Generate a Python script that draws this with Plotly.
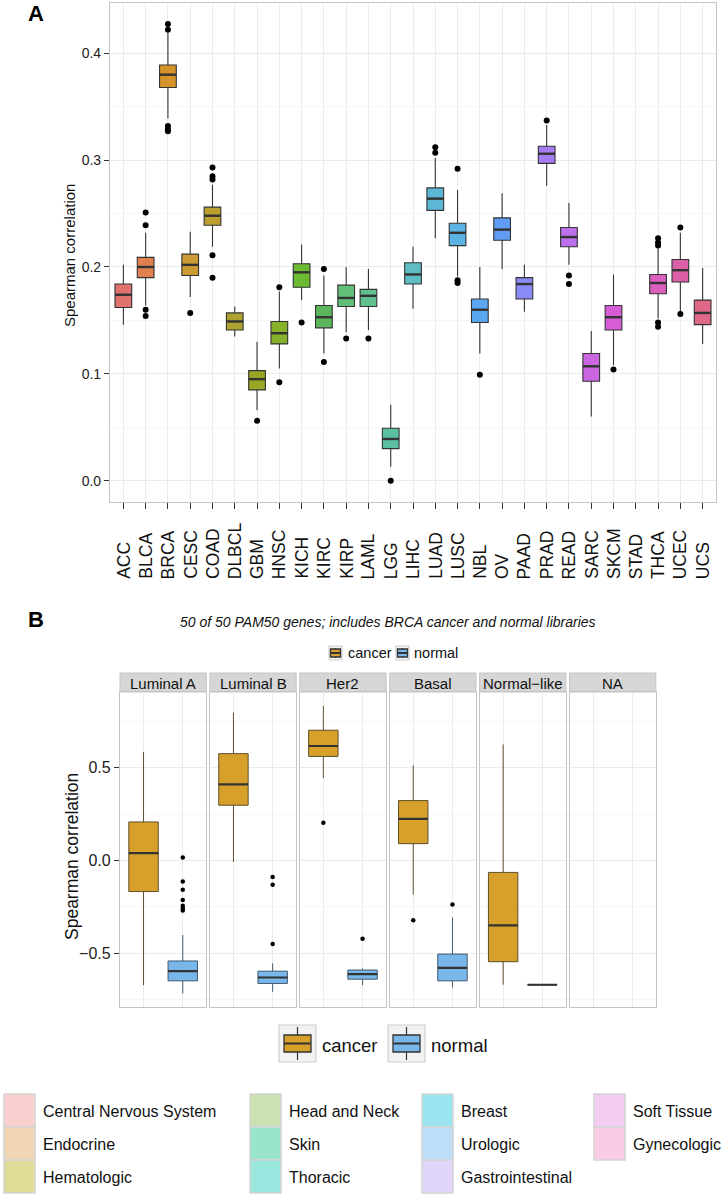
import math
import plotly.graph_objects as go

W, H = 726, 1195
FONT = "Liberation Sans, Arial, Helvetica, sans-serif"


def px(x):
    return x / W


def py(y):
    return 1 - y / H


def hcl(h, c, l):
    hr = math.radians(h)
    u = c * math.cos(hr)
    v = c * math.sin(hr)
    Xn, Yn, Zn = 95.047, 100.0, 108.883
    un = 4 * Xn / (Xn + 15 * Yn + 3 * Zn)
    vn = 9 * Yn / (Xn + 15 * Yn + 3 * Zn)
    Y = Yn * ((l + 16) / 116) ** 3 if l > 8 else Yn * l / 903.3
    up = u / (13 * l) + un
    vp = v / (13 * l) + vn
    X = Y * 9 * up / (4 * vp)
    Z = Y * (12 - 3 * up - 20 * vp) / (4 * vp)
    X, Y, Z = X / 100, Y / 100, Z / 100
    r = 3.2406 * X - 1.5372 * Y - 0.4986 * Z
    g = -0.9689 * X + 1.8758 * Y + 0.0415 * Z
    b = 0.0557 * X - 0.2040 * Y + 1.0570 * Z
    out = []
    for ch in (r, g, b):
        ch = 12.92 * ch if ch <= 0.0031308 else 1.055 * max(ch, 0) ** (1 / 2.4) - 0.055
        out.append(max(0, min(255, round(ch * 255))))
    return out


def to_hex(rgb):
    return "#%02x%02x%02x" % tuple(rgb)


def blend_white(rgb, a):
    return to_hex([round(a * v + (1 - a) * 255) for v in rgb])


# ---------------- Panel A data ----------------
cancer_types = ["ACC", "BLCA", "BRCA", "CESC", "COAD", "DLBCL", "GBM", "HNSC", "KICH",
                "KIRC", "KIRP", "LAML", "LGG", "LIHC", "LUAD", "LUSC", "NBL", "OV",
                "PAAD", "PRAD", "READ", "SARC", "SKCM", "STAD", "THCA", "UCEC", "UCS"]
a_low = [0.146, 0.164, 0.339, 0.172, 0.219, 0.135, 0.066, 0.105, 0.169,
         0.119, 0.139, 0.141, 0.013, 0.161, 0.227, 0.191, 0.119, 0.198,
         0.158, 0.276, 0.202, 0.060, 0.108, None, 0.152, 0.158, 0.128]
a_q1 = [0.162, 0.190, 0.368, 0.192, 0.239, 0.141, 0.085, 0.128, 0.181,
        0.143, 0.163, 0.163, 0.030, 0.184, 0.253, 0.220, 0.148, 0.225,
        0.170, 0.297, 0.219, 0.093, 0.141, None, 0.175, 0.186, 0.146]
a_med = [0.174, 0.200, 0.380, 0.202, 0.248, 0.149, 0.095, 0.138, 0.195,
         0.153, 0.171, 0.173, 0.039, 0.193, 0.264, 0.232, 0.160, 0.235,
         0.184, 0.306, 0.228, 0.107, 0.153, None, 0.185, 0.197, 0.157]
a_q3 = [0.184, 0.209, 0.389, 0.212, 0.256, 0.157, 0.103, 0.149, 0.203,
        0.164, 0.183, 0.179, 0.049, 0.204, 0.274, 0.241, 0.170, 0.246,
        0.190, 0.313, 0.237, 0.119, 0.164, None, 0.193, 0.207, 0.169]
a_high = [0.202, 0.232, 0.419, 0.233, 0.277, 0.163, 0.130, 0.177, 0.221,
          0.192, 0.200, 0.198, 0.071, 0.219, 0.302, 0.272, 0.200, 0.269,
          0.202, 0.333, 0.260, 0.140, 0.193, None, 0.2175, 0.232, 0.199]
a_out_cat = ["BLCA", "BLCA", "BLCA", "BLCA",
             "BRCA", "BRCA", "BRCA", "BRCA", "BRCA",
             "CESC",
             "COAD", "COAD", "COAD", "COAD", "COAD",
             "GBM", "HNSC", "HNSC", "KICH", "KIRC", "KIRC", "KIRP", "LAML", "LGG",
             "LUAD", "LUAD", "LUSC", "LUSC", "LUSC", "NBL", "PRAD", "READ", "READ",
             "SKCM", "THCA", "THCA", "THCA", "THCA", "THCA", "UCEC", "UCEC"]
a_out_val = [0.251, 0.239, 0.160, 0.154,
             0.4275, 0.422, 0.332, 0.329, 0.327,
             0.157,
             0.293, 0.285, 0.282, 0.211, 0.190,
             0.056, 0.181, 0.092, 0.148, 0.198, 0.111, 0.133, 0.133, 0.000,
             0.312, 0.307, 0.292, 0.1875, 0.185, 0.099, 0.337, 0.192, 0.184,
             0.104, 0.227, 0.223, 0.220, 0.148, 0.144, 0.237, 0.156]
a_ticks = [0.0, 0.1, 0.2, 0.3, 0.4]
a_ticktext = ["0.0", "0.1", "0.2", "0.3", "0.4"]

# ---------------- Panel B data ----------------
subtypes = ["Luminal A", "Luminal B", "Her2", "Basal", "Normal\u2212like", "NA"]
groups = ["cancer", "normal"]
cancer_low = [-0.671, -0.008, 0.444, -0.183, -0.669, None]
cancer_q1 = [-0.167, 0.298, 0.561, 0.091, -0.545, None]
cancer_med = [0.0405, 0.410, 0.617, 0.224, -0.349, None]
cancer_q3 = [0.208, 0.576, 0.702, 0.323, -0.064, None]
cancer_high = [0.585, 0.797, 0.833, 0.513, 0.626, None]
normal_low = [-0.716, -0.707, -0.671, -0.684, -0.669, None]
normal_q1 = [-0.648, -0.662, -0.639, -0.648, -0.669, None]
normal_med = [-0.596, -0.630, -0.612, -0.578, -0.669, None]
normal_q3 = [-0.541, -0.596, -0.590, -0.504, -0.669, None]
normal_high = [-0.401, -0.554, -0.581, -0.307, -0.669, None]
b_out_facet = [0, 0, 0, 0, 0, 0, 0, 1, 1, 1, 2, 2, 3, 3]
b_out_group = ["normal"] * 7 + ["normal"] * 3 + ["cancer", "normal", "cancer", "normal"]
b_out_val = [0.017, -0.113, -0.158, -0.212, -0.244, -0.257, -0.269,
             -0.089, -0.131, -0.450, 0.203, -0.421, -0.322, -0.237]
b_ticks = [-0.5, 0.0, 0.5]
b_ticktext = ["\u22120.5", "0.0", "0.5"]

tissues = ["Central Nervous System", "Endocrine", "Hematologic", "Head and Neck", "Skin",
           "Thoracic", "Breast", "Urologic", "Gastrointestinal", "Soft Tissue", "Gynecologic"]

b_title = "50 of 50 PAM50 genes; includes BRCA cancer and normal libraries"

# ---------------- Styles ----------------
n = len(cancer_types)
a_colors = ["#E0736E", "#E08050", "#D5932A", "#CC9A33", "#BCA02E", "#ADA232", "#9AA623",
            "#85B22A", "#6DBA33", "#5BB55A", "#62BF7A", "#60C08E", "#5BBFA2", "#5DBDC2",
            "#5CB8D6", "#5BB3E3", "#5AA6F0", "#5F9CF2", "#8B8BF8", "#A57CF2", "#BD70EB",
            "#C966E0", "#D65DD6", "#DB5FC8", "#DB5FBF", "#DB5FA6", "#DF6788"]
group_fill = {"cancer": "#D6A02B", "normal": "#79B6E9"}
group_line = {"cancer": "#5e4f2c", "normal": "#3f5870"}
tissue_colors = [blend_white(hcl(15 + 360 * i / len(tissues), 75, 68), 0.40)
                 for i in range(len(tissues))]
GRID = "#EBEBEB"
MINOR = "#F6F6F6"
BORDER = "#C4C4C4"

fig = go.Figure()
shapes = []
annotations = []

# ---------------- Panel A ----------------
fig.add_trace(go.Scatter(x=cancer_types, y=[None] * n, mode="markers",
                         showlegend=False, hoverinfo="skip", xaxis="x", yaxis="y"))
BW = 0.75
for i, ct in enumerate(cancer_types):
    if a_med[i] is None:
        continue
    fig.add_trace(go.Box(
        x=[ct], q1=[a_q1[i]], median=[a_med[i]], q3=[a_q3[i]],
        lowerfence=[a_low[i]], upperfence=[a_high[i]],
        fillcolor=a_colors[i], line=dict(color="#333333", width=1.1),
        width=BW, whiskerwidth=0, boxpoints=False, showlegend=False,
        hoverinfo="skip", xaxis="x", yaxis="y"))
    shapes.append(dict(type="line", xref="x", yref="y", x0=i - BW / 2, x1=i + BW / 2,
                       y0=a_med[i], y1=a_med[i], line=dict(color="#333333", width=2.4),
                       layer="above"))
fig.add_trace(go.Scatter(x=a_out_cat, y=a_out_val, mode="markers",
                         marker=dict(color="black", size=6), showlegend=False,
                         hoverinfo="skip", xaxis="x", yaxis="y"))

for ct in cancer_types:
    annotations.append(dict(x=ct, xref="x", y=py(581), yref="paper", text=ct,
                            textangle=-90, xanchor="center", yanchor="bottom",
                            showarrow=False, font=dict(size=17.5, color="#111111", family=FONT)))

layout = dict(
    width=W, height=H, margin=dict(l=0, r=0, t=0, b=0),
    paper_bgcolor="white", plot_bgcolor="white", boxmode="overlay",
    font=dict(family=FONT, color="#222222"),
    xaxis=dict(domain=[px(110), px(716)], anchor="y", type="category",
               categoryorder="array", categoryarray=cancer_types,
               range=[-0.6, n - 0.4], showticklabels=False, ticks="outside",
               ticklen=6, tickcolor="#333333", tickwidth=1, showgrid=True,
               gridcolor=GRID, showline=True, linecolor=BORDER, linewidth=1.2,
               mirror=True, zeroline=False),
    yaxis=dict(domain=[py(502), py(3)], anchor="x", range=[-0.020, 0.4471],
               tickvals=a_ticks, ticktext=a_ticktext, ticks="outside", ticklen=5,
               tickcolor="#333333", tickfont=dict(size=14, color="#222222"),
               showgrid=True, gridcolor=GRID, zeroline=False, showline=True,
               linecolor=BORDER, linewidth=1.2, mirror=True,
               minor=dict(dtick=0.05, tick0=0, showgrid=True, gridcolor=MINOR)),
)

annotations.append(dict(x=px(70), y=py(256), xref="paper", yref="paper",
                        text="Spearman correlation", textangle=-90, showarrow=False,
                        xanchor="center", yanchor="middle",
                        font=dict(size=15, color="#111111", family=FONT)))
annotations.append(dict(x=px(36), y=py(14), xref="paper", yref="paper", text="<b>A</b>",
                        showarrow=False, xanchor="center", yanchor="middle",
                        font=dict(size=22, color="black", family=FONT)))

# ---------------- Panel B ----------------
PANEL_X0, PANEL_W, PANEL_STEP = 120, 86.3, 89.9
B_TOP, B_BOT, STRIP_TOP = 692, 1007, 673
stats = {
    "cancer": (cancer_low, cancer_q1, cancer_med, cancer_q3, cancer_high),
    "normal": (normal_low, normal_q1, normal_med, normal_q3, normal_high),
}
for f, st in enumerate(subtypes):
    k = f + 2
    xa, ya = "x%d" % k, "y%d" % k
    x0 = PANEL_X0 + f * PANEL_STEP
    x1 = x0 + PANEL_W
    fig.add_trace(go.Scatter(x=groups, y=[None, None], mode="markers", showlegend=False,
                             hoverinfo="skip", xaxis=xa, yaxis=ya))
    for j, g in enumerate(groups):
        lo, q1, me, q3, hi = stats[g]
        if me[f] is None:
            continue
        fig.add_trace(go.Box(
            x=[g], q1=[q1[f]], median=[me[f]], q3=[q3[f]],
            lowerfence=[lo[f]], upperfence=[hi[f]],
            fillcolor=group_fill[g], line=dict(color=group_line[g], width=1.0),
            width=BW, whiskerwidth=0, boxpoints=False, showlegend=False,
            hoverinfo="skip", xaxis=xa, yaxis=ya))
        shapes.append(dict(type="line", xref=xa, yref=ya, x0=j - BW / 2, x1=j + BW / 2,
                           y0=me[f], y1=me[f], line=dict(color="#333333", width=2.2),
                           layer="above"))
    ox = [b_out_group[i] for i in range(len(b_out_val)) if b_out_facet[i] == f]
    oy = [b_out_val[i] for i in range(len(b_out_val)) if b_out_facet[i] == f]
    if ox:
        fig.add_trace(go.Scatter(x=ox, y=oy, mode="markers",
                                 marker=dict(color="black", size=4.5), showlegend=False,
                                 hoverinfo="skip", xaxis=xa, yaxis=ya))
    layout["xaxis%d" % k] = dict(
        domain=[px(x0), px(x1)], anchor=ya, type="category", categoryorder="array",
        categoryarray=groups, range=[-0.6, 1.6], showticklabels=False, ticks="",
        showgrid=True, gridcolor=GRID, showline=True, linecolor=BORDER, linewidth=1.2,
        mirror=True, zeroline=False)
    layout["yaxis%d" % k] = dict(
        domain=[py(B_BOT), py(B_TOP)], anchor=xa, range=[-0.789, 0.908],
        tickvals=b_ticks, ticktext=b_ticktext, showticklabels=(f == 0),
        ticks="outside" if f == 0 else "", ticklen=5, tickcolor="#333333",
        tickfont=dict(size=16, color="#222222"), showgrid=True, gridcolor=GRID,
        zeroline=False, showline=True, linecolor=BORDER, linewidth=1.2, mirror=True,
        minor=dict(dtick=0.25, tick0=0, showgrid=True, gridcolor=MINOR))
    # strip
    shapes.append(dict(type="rect", xref="paper", yref="paper", x0=px(x0), x1=px(x1),
                       y0=py(B_TOP), y1=py(STRIP_TOP), fillcolor="#D6D6D6",
                       line=dict(color="#C4C4C4", width=1), layer="below"))
    annotations.append(dict(x=px((x0 + x1) / 2), y=py((B_TOP + STRIP_TOP) / 2 + 0.5),
                            xref="paper", yref="paper", text=st, showarrow=False,
                            xanchor="center", yanchor="middle",
                            font=dict(size=15, color="#111111", family=FONT)))

annotations.append(dict(x=px(72), y=py(857), xref="paper", yref="paper",
                        text="Spearman correlation", textangle=-90, showarrow=False,
                        xanchor="center", yanchor="middle",
                        font=dict(size=17.5, color="#111111", family=FONT)))
annotations.append(dict(x=px(36), y=py(619), xref="paper", yref="paper", text="<b>B</b>",
                        showarrow=False, xanchor="center", yanchor="middle",
                        font=dict(size=22, color="black", family=FONT)))
annotations.append(dict(x=px(388), y=py(622), xref="paper", yref="paper",
                        text="<i>" + b_title + "</i>", showarrow=False,
                        xanchor="center", yanchor="middle",
                        font=dict(size=14, color="#111111", family=FONT)))


def legend_key(x0, y0, w, h, fill, pad_x, pad_y, border=True):
    """Box-plot legend glyph drawn in pixel space."""
    if border:
        shapes.append(dict(type="rect", xref="paper", yref="paper", x0=px(x0), x1=px(x0 + w),
                           y0=py(y0 + h), y1=py(y0), fillcolor="#F2F2F2",
                           line=dict(color="#D0D0D0", width=1.2)))
    cx = x0 + w / 2
    bx0, bx1 = x0 + pad_x, x0 + w - pad_x
    by0, by1 = y0 + pad_y, y0 + h - pad_y
    shapes.append(dict(type="line", xref="paper", yref="paper", x0=px(cx), x1=px(cx),
                       y0=py(y0 + 2), y1=py(y0 + h - 2), line=dict(color="#333333", width=1.2)))
    shapes.append(dict(type="rect", xref="paper", yref="paper", x0=px(bx0), x1=px(bx1),
                       y0=py(by1), y1=py(by0), fillcolor=fill,
                       line=dict(color="#333333", width=1.3)))
    my = (by0 + by1) / 2
    shapes.append(dict(type="line", xref="paper", yref="paper", x0=px(bx0), x1=px(bx1),
                       y0=py(my), y1=py(my), line=dict(color="#333333", width=2)))


# small legend above strips
small_pos = {"cancer": (329, 346), "normal": (396, 412)}
for g in groups:
    kx, tx = small_pos[g]
    legend_key(kx, 646, 13, 14, group_fill[g], 1.5, 3, border=True)
    annotations.append(dict(x=px(tx), y=py(653), xref="paper", yref="paper", text=g,
                            showarrow=False, xanchor="left", yanchor="middle",
                            font=dict(size=14.5, color="#111111", family=FONT)))

# big legend below panels
big_pos = {"cancer": (279, 320), "normal": (388, 429)}
for g in groups:
    kx, tx = big_pos[g]
    legend_key(kx, 1025, 37, 37, group_fill[g], 5, 10, border=True)
    annotations.append(dict(x=px(tx), y=py(1045), xref="paper", yref="paper", text=g,
                            showarrow=False, xanchor="left", yanchor="middle",
                            font=dict(size=18.5, color="#111111", family=FONT)))

# tissue legend
col_x = [4, 250, 422, 594]
row_y = [1094, 1127, 1160]
for i, t in enumerate(tissues):
    c, r = divmod(i, 3)
    x0 = col_x[c]
    y0 = row_y[r]
    shapes.append(dict(type="rect", xref="paper", yref="paper", x0=px(x0), x1=px(x0 + 31),
                       y0=py(y0 + 33), y1=py(y0), fillcolor=tissue_colors[i],
                       line=dict(color="#D3D3D3", width=1.5)))
    annotations.append(dict(x=px(x0 + 37), y=py(y0 + 17), xref="paper", yref="paper",
                            text=t, showarrow=False, xanchor="left", yanchor="middle",
                            font=dict(size=16, color="#111111", family=FONT)))

layout["shapes"] = shapes
layout["annotations"] = annotations
fig.update_layout(**layout)

fig.write_html("out.html", config={"displayModeBar": False},
               post_script="document.body.style.margin='0px';")
